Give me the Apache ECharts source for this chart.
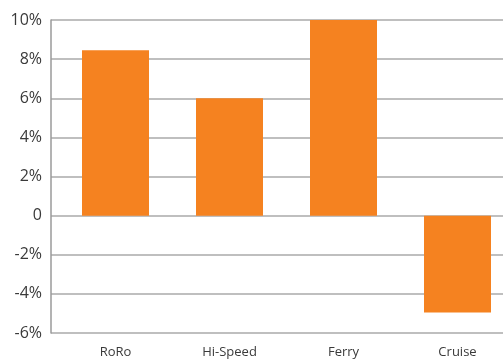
<!DOCTYPE html>
<html>
<head>
<meta charset="utf-8">
<script src="https://cdn.jsdelivr.net/npm/echarts@6/dist/echarts.min.js"></script>
<style>
html,body{margin:0;padding:0;background:#fff;}
#chart{width:503px;height:361px;}
</style>
</head>
<body>
<div id="chart"></div>
<script>
const categories = ['RoRo', 'Hi-Speed', 'Ferry', 'Cruise'];
const values = [8.45, 6.0, 10.0, -4.95];
const yMin = -6, yMax = 10, yStep = 2;

const chart = echarts.init(document.getElementById('chart'), null, {renderer: 'canvas'});
const font = '"Open Sans", "Noto Sans", sans-serif';
chart.setOption({
  animation: false,
  grid: [
    {left: 51, right: 0, top: 20, bottom: 28},
    {left: 115.5, right: 45.5, top: 20, bottom: 28}
  ],
  xAxis: [
    {gridIndex: 0, type: 'category', data: categories, show: false},
    {gridIndex: 1, type: 'category', data: categories, boundaryGap: false,
     axisLine: {show: false}, axisTick: {show: false},
     axisLabel: {color: '#3a3a3a', fontSize: 13, fontFamily: font, margin: 13}}
  ],
  yAxis: [
    {gridIndex: 0, type: 'value', min: yMin, max: yMax, interval: yStep,
     axisLine: {show: true, lineStyle: {color: '#9a9a9a', width: 1.5}},
     axisTick: {show: false},
     splitLine: {show: true, lineStyle: {color: '#aaaaaa', width: 1.5}},
     axisLabel: {color: '#3a3a3a', fontSize: 16, fontFamily: font, margin: 9,
       formatter: v => v === 0 ? '0' : v + '%'}},
    {gridIndex: 1, type: 'value', min: yMin, max: yMax, interval: yStep, show: false,
     splitLine: {show: false}}
  ],
  series: [{
    type: 'bar', xAxisIndex: 1, yAxisIndex: 1,
    data: values, barWidth: 67,
    itemStyle: {color: '#F58220'}
  }]
});
</script>
</body>
</html>
